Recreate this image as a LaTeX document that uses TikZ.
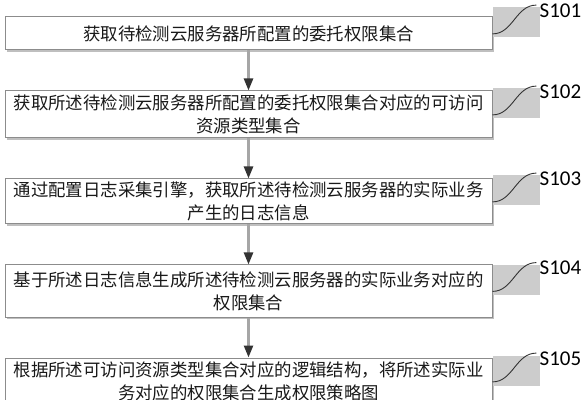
\documentclass[tikz,border=0pt]{standalone}
\usepackage{fontspec}
\newfontfamily\cjk{Noto Sans CJK SC}
\newfontfamily\lab{Carlito}
\usetikzlibrary{positioning,shadows,arrows.meta}

\tikzset{
  stepbox/.style={draw=black!45, line width=0.5pt, fill=white, rectangle,
    minimum width=243.5pt, inner sep=1pt, align=center,
    font=\cjk\fontsize{8.7pt}{11.5pt}\selectfont, text=black!90,
    drop shadow={shadow xshift=1pt, shadow yshift=-1pt, fill=black!25, opacity=1}},
  tab/.style={fill=black!20, minimum width=23.5pt, minimum height=15pt, inner sep=0pt, anchor=west},
  steplabel/.style={font=\lab\fontsize{10.5pt}{12pt}\selectfont, inner sep=0pt, anchor=north west},
  wave/.style={draw=black!80, line width=0.45pt},
  flow/.style={draw=black!35, line width=1.2pt,
    -{Triangle[length=6pt,width=4.5pt,color=black!80,fill=black!80]}}
}

\begin{document}
\begin{tikzpicture}[x=0.5pt, y=-0.5pt]
  \clip (0,0) rectangle (582,400);

  % steps
  \node[stepbox, minimum height=16.5pt] (b1) at (248.5,33.5)
    {获取待检测云服务器所配置的委托权限集合};
  \node[stepbox, minimum height=23.5pt, below=20pt of b1] (b2)
    {获取所述待检测云服务器所配置的委托权限集合对应的可访问\\资源类型集合};
  \node[stepbox, minimum height=22.5pt, below=20pt of b2] (b3)
    {通过配置日志采集引擎，获取所述待检测云服务器的实际业务\\产生的日志信息};
  \node[stepbox, minimum height=26pt, below=20pt of b3] (b4)
    {基于所述日志信息生成所述待检测云服务器的实际业务对应的\\权限集合};
  \node[stepbox, minimum height=23.5pt, below=20pt of b4] (b5)
    {根据所述可访问资源类型集合对应的逻辑结构，将所述实际业\\务对应的权限集合生成权限策略图};

  % arrows
  \draw[flow] (b1.south) -- (b2.north);
  \draw[flow] (b2.south) -- (b3.north);
  \draw[flow] (b3.south) -- (b4.north);
  \draw[flow] (b4.south) -- (b5.north);

  % step labels
  \foreach \b/\s in {b1/S101, b2/S102, b3/S103, b4/S104, b5/S105}{
    \node[tab] (t\b) at ([yshift=5.5pt]\b.east) {};
    \node[steplabel] (l\b) at ([xshift=-0.5pt, yshift=2pt]t\b.north east) {\s};
    \draw[wave] ([yshift=2pt]t\b.south west) to[out=0, in=180]
      ([xshift=-1.5pt, yshift=-1pt]l\b.north west);
  }
\end{tikzpicture}
\end{document}
